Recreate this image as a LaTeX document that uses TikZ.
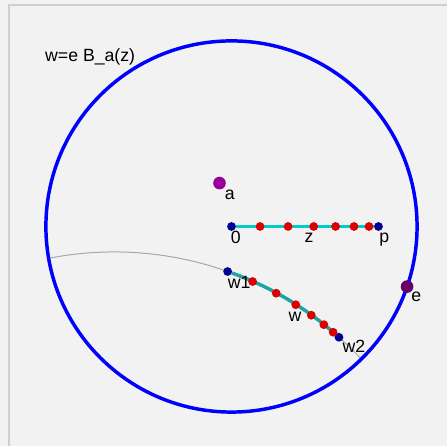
\documentclass[tikz,border=0pt]{standalone}
\usepackage{fontspec}
\setmainfont{Liberation Sans}
\usetikzlibrary{calc}
\definecolor{panel}{HTML}{F2F2F2}
\definecolor{frame}{HTML}{CFCFCF}
\definecolor{rim}{HTML}{0000FF}
\definecolor{navy}{HTML}{000090}
\definecolor{hot}{HTML}{DD0000}
\definecolor{plum}{HTML}{990099}
\definecolor{deepplum}{HTML}{660066}
\definecolor{seg}{HTML}{00CCCC}
\definecolor{segdark}{HTML}{1FA3A3}
\definecolor{geo}{HTML}{A8A8A8}
\tikzset{
  every node/.style={font=\fontsize{13.3}{15}\selectfont},
  dot/.style={circle,inner sep=0pt,minimum size=6.6pt},
  enddot/.style={dot,fill=navy},
  reddot/.style={dot,fill=hot},
  bigdot/.style={circle,inner sep=0pt,minimum size=9.5pt},
  tag/.style={anchor=base west,inner sep=0pt},
  segline/.style={draw=seg,line width=2.6pt}}
\begin{document}
\begin{tikzpicture}[x=.75pt,y=.75pt]
\fill[panel] (0,0) rectangle (448,447);
\draw[frame,line width=1.5pt] (9,0) -- (9,441.5) -- (448,441.5);
\node[tag] (title) at (45,385.5) {w=e B\_a(z)};
\begin{scope}[shift={(232,220)},x=139.5pt,y=139.5pt]
\coordinate (c) at (-.632,-1.962);
\draw[geo,line width=.75pt] ($(c)+(101.3:1.825)$) arc[start angle=101.3,end angle=43.1,radius=1.825];
\draw[rim,line width=2.6pt] (0,0) circle[radius=1];
\node[enddot] (o) at (0,0) {};
\node[enddot] (p) at (.792,0) {};
\node[enddot] (w1) at ($(c)+(70.43:1.825)$) {};
\node[enddot] (w2) at ($(c)+(48.42:1.825)$) {};
\draw[segline] (o) -- (p);
\draw[segline,draw=segdark] (w1) to[bend left=11,looseness=.85] (w2);
\foreach \u [count=\i] in {.154,.305,.443,.561,.660,.741}
  \node[reddot] (z\i) at (\u,0) {};
\foreach \t [count=\i] in {65.88,61.42,57.58,54.41,51.75,49.72}
  \node[reddot] (v\i) at ($(c)+(\t:1.825)$) {};
\node[bigdot,fill=plum] (a) at (-.0645,.234) {};
\node[bigdot,fill=deepplum] (e) at (-18.9:1) {};
\end{scope}
\node[tag] (alab) at (225,247) {a};
\node[tag] (olab) at (231,203) {0};
\node[tag] (zlab) at (305,204) {z};
\node[tag] (plab) at (380,204) {p};
\node[tag] (w1lab) at (228,158) {w1};
\node[tag] (wlab) at (289,125) {w};
\node[tag] (w2lab) at (343,94) {w2};
\node[tag] (elab) at (412,145) {e};
\end{tikzpicture}
\end{document}
